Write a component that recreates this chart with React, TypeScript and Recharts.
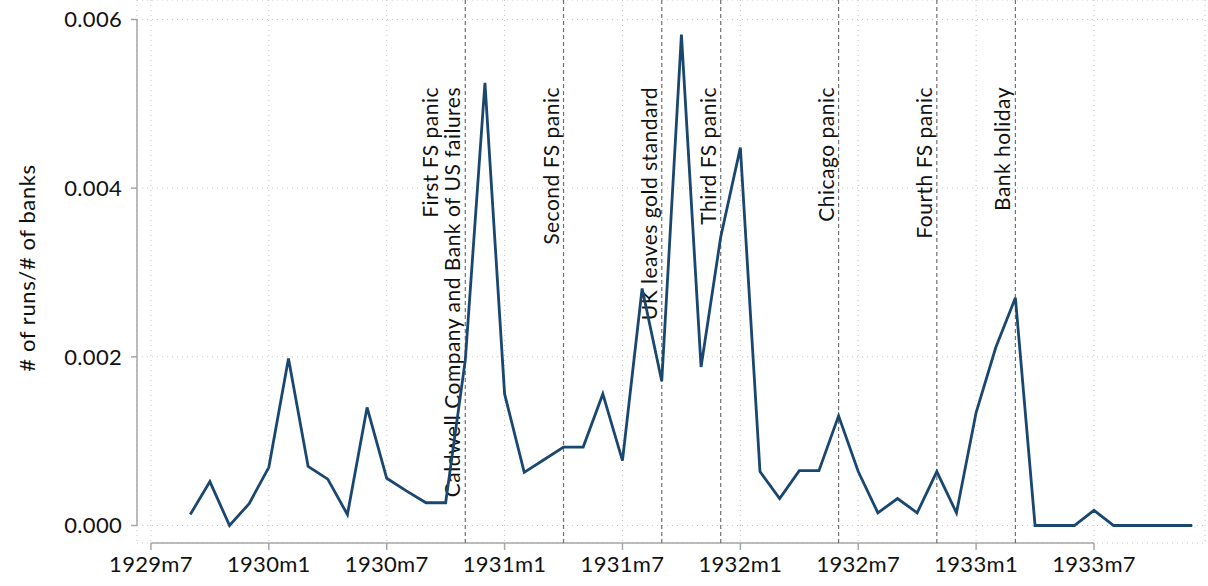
import { LineChart, Line, XAxis, YAxis, CartesianGrid, ReferenceLine } from "recharts";

// monthly observations, 1929m9 .. 1933m12
const months = [
  "1929m9", "1929m10", "1929m11", "1929m12",
  "1930m1", "1930m2", "1930m3", "1930m4", "1930m5", "1930m6",
  "1930m7", "1930m8", "1930m9", "1930m10", "1930m11", "1930m12",
  "1931m1", "1931m2", "1931m3", "1931m4", "1931m5", "1931m6",
  "1931m7", "1931m8", "1931m9", "1931m10", "1931m11", "1931m12",
  "1932m1", "1932m2", "1932m3", "1932m4", "1932m5", "1932m6",
  "1932m7", "1932m8", "1932m9", "1932m10", "1932m11", "1932m12",
  "1933m1", "1933m2", "1933m3", "1933m4", "1933m5", "1933m6",
  "1933m7", "1933m8", "1933m9", "1933m10", "1933m11", "1933m12",
];

const runsPerBank = [
  0.00013, 0.00052, 0, 0.00026,
  0.00069, 0.00198, 0.0007, 0.00055, 0.00013, 0.0014,
  0.00056, 0.00041, 0.00027, 0.00027, 0.00196, 0.00525,
  0.00156, 0.00063, 0.00078, 0.00093, 0.00093, 0.00156,
  0.00077, 0.00281, 0.00171, 0.00582, 0.00188, 0.00342,
  0.00448, 0.00064, 0.00032, 0.00065, 0.00065, 0.0013,
  0.00064, 0.00015, 0.00032, 0.00015, 0.00064, 0.00015,
  0.00134, 0.00211, 0.0027, 0, 0, 0,
  0.00018, 0, 0, 0, 0, 0,
];

const xTickLabels = [
  "1929m7", "1930m1", "1930m7", "1931m1", "1931m7",
  "1932m1", "1932m7", "1933m1", "1933m7",
];
const yTicks = [0, 0.002, 0.004, 0.006];

const eventMonths = ["1930m11", "1931m4", "1931m9", "1931m12", "1932m6", "1932m11", "1933m3"];
const eventLabels = [
  ["First FS panic", "Caldwell Company and Bank of US failures"],
  ["Second FS panic"],
  ["UK leaves gold standard"],
  ["Third FS panic"],
  ["Chicago panic"],
  ["Fourth FS panic"],
  ["Bank holiday"],
];

const FONT = "Lato, 'Open Sans', sans-serif";
const X_MIN = -0.71;
const X_MAX = 53.65;
const Y_MIN = -0.0002075;
const Y_MAX = 0.006231;

// "1930m11" -> months since 1929m7
const toIndex = (s: string) => {
  const [y, m] = s.split("m").map(Number);
  return (y - 1929) * 12 + (m - 7);
};

const data = months.map((m, i) => ({ x: toIndex(m), v: runsPerBank[i] }));
const tickIdx = xTickLabels.map(toIndex);

function EventLabel({ viewBox, lines }: any) {
  const x = viewBox?.x ?? 0;
  const top = 87;
  return (
    <g>
      {lines.map((t: string, i: number) => {
        const bx = x - 5 - (lines.length - 1 - i) * 22;
        return (
          <text
            key={i}
            x={bx}
            y={top}
            transform={`rotate(-90 ${bx} ${top})`}
            textAnchor="end"
            fontSize={21}
            letterSpacing={0.5}
            fontFamily={FONT}
            fill="#111"
          >
            {t}
          </text>
        );
      })}
    </g>
  );
}

function YTitle() {
  return (
    <text
      x={35}
      y={268}
      transform="rotate(-90 35 268)"
      textAnchor="middle"
      fontSize={22}
      letterSpacing={0.6}
      fontFamily={FONT}
      fill="#111"
    >
      # of runs/# of banks
    </text>
  );
}

export default function App() {
  return (
    <div style={{ width: 1208, height: 586, background: "#fff" }}>
      <style>{`body{margin:0}`}</style>
      <LineChart
        width={1208}
        height={586}
        data={data}
        margin={{ top: 0, right: 3, bottom: 0, left: 0 }}
      >
        <CartesianGrid stroke="#c4c4c4" strokeDasharray="1 4" />
        <XAxis
          type="number"
          dataKey="x"
          domain={[X_MIN, X_MAX]}
          allowDataOverflow
          ticks={tickIdx}
          tickFormatter={(v: number) => xTickLabels[tickIdx.indexOf(v)] ?? ""}
          axisLine={false}
          tickLine={{ stroke: "#a6a6a6", strokeWidth: 1.5 }}
          tickSize={7}
          tickMargin={6}
          height={43}
          interval={0}
          tick={{ fontSize: 22, fill: "#111", fontFamily: FONT, letterSpacing: 0.3 }}
        />
        <YAxis
          type="number"
          domain={[Y_MIN, Y_MAX]}
          allowDataOverflow
          ticks={yTicks}
          tickFormatter={(v: number) => v.toFixed(3)}
          axisLine={false}
          tickLine={{ stroke: "#a6a6a6", strokeWidth: 1.5 }}
          tickSize={6}
          tickMargin={9}
          width={137}
          interval={0}
          tick={{ fontSize: 22, fill: "#111", fontFamily: FONT, letterSpacing: 0.3 }}
          label={<YTitle />}
        />
        <ReferenceLine
          segment={[{ x: tickIdx[0], y: Y_MIN }, { x: tickIdx[tickIdx.length - 1], y: Y_MIN }]}
          stroke="#a6a6a6"
          strokeWidth={1.5}
        />
        <ReferenceLine
          segment={[{ x: X_MIN, y: 0 }, { x: X_MIN, y: 0.006 }]}
          stroke="#a6a6a6"
          strokeWidth={1.5}
        />
        {eventMonths.map((m, i) => (
          <ReferenceLine
            key={m}
            x={toIndex(m)}
            stroke="#707070"
            strokeWidth={1.2}
            strokeDasharray="4 3"
            label={<EventLabel lines={eventLabels[i]} />}
          />
        ))}
        <Line
          type="linear"
          dataKey="v"
          stroke="#1a476f"
          strokeWidth={2.8}
          dot={false}
          isAnimationActive={false}
        />
      </LineChart>
    </div>
  );
}
